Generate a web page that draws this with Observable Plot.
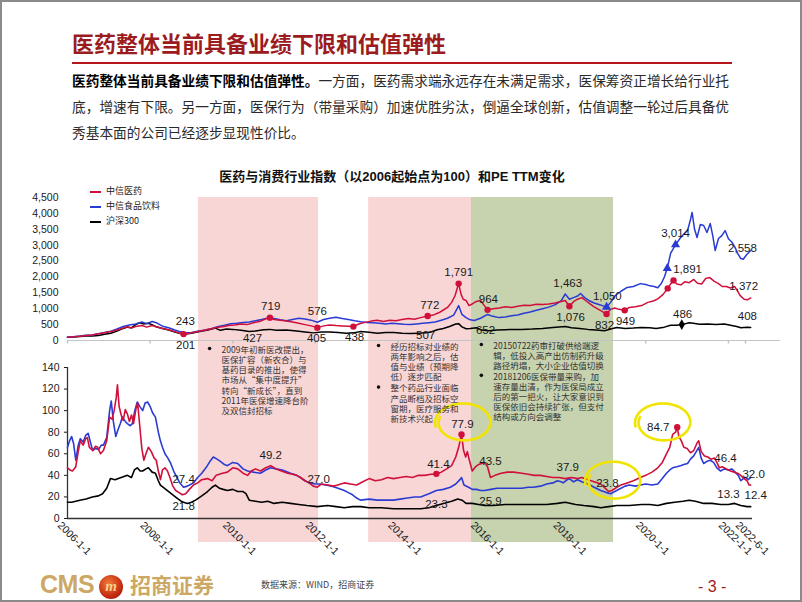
<!DOCTYPE html>
<html><head><meta charset="utf-8">
<script src="https://cdn.jsdelivr.net/npm/d3@7"></script>
<script src="https://cdn.jsdelivr.net/npm/@observablehq/plot@0.6"></script>
<style>
html,body{margin:0;padding:0;background:#fff;}
#page{position:relative;width:802px;height:602px;overflow:hidden;background:#fff;font-family:"Noto Sans CJK SC",sans-serif;}
#frame{position:absolute;left:0;top:0;width:802px;height:602px;box-sizing:border-box;border:2px solid #8a8a8a;pointer-events:none;}
#title{position:absolute;left:72px;top:29px;font-size:22px;line-height:26px;font-weight:700;color:#9b1b1e;white-space:nowrap;}
#rule{position:absolute;left:72px;top:62px;width:660px;height:2px;background:#b4161c;}
#para{position:absolute;left:72px;top:67px;font-size:13.7px;line-height:26px;color:#2a2a2a;white-space:nowrap;}
#para b{color:#000;}
#ctitle{position:absolute;left:0;width:784px;top:169px;text-align:center;font-family:"Liberation Sans","Noto Sans CJK SC",sans-serif;font-weight:700;font-size:13px;line-height:16px;color:#111;white-space:nowrap;}
#topplot{position:absolute;left:0;top:185px;}
#botplot{position:absolute;left:0;top:355px;}
#legend{position:absolute;left:90px;top:183px;font-size:9px;color:#222;}
#legend .row{height:15px;line-height:15px;white-space:nowrap;}
#legend .sw{display:inline-block;width:11px;height:2px;vertical-align:middle;margin-right:5px;}
#cms{position:absolute;left:40px;top:570px;font-family:"Liberation Sans",sans-serif;font-weight:700;font-size:25px;color:#cda865;letter-spacing:-0.5px;}
#logo{position:absolute;left:99px;top:575px;width:24px;height:24px;border-radius:50%;background:radial-gradient(circle at 40% 35%,#f07a3a,#c62d12 60%,#8e1408);color:#f3d28c;font-family:"Liberation Serif",serif;font-style:italic;font-weight:700;font-size:15px;line-height:23px;text-align:center;}
#cmscn{position:absolute;left:130px;top:571px;font-weight:700;font-size:21px;line-height:26px;color:#cda865;}
#source{position:absolute;left:261px;top:579px;font-size:9px;line-height:12px;color:#444;}
#pageno{position:absolute;left:698px;top:578px;font-family:"Liberation Sans",sans-serif;font-size:16px;color:#a01c1c;white-space:pre;}
</style></head>
<body><div id="page">
<div id="title">医药整体当前具备业绩下限和估值弹性</div>
<div id="rule"></div>
<div id="para"><b>医药整体当前具备业绩下限和估值弹性。</b>一方面，医药需求端永远存在未满足需求，医保筹资正增长给行业托<br>底，增速有下限。另一方面，医保行为（带量采购）加速优胜劣汰，倒逼全球创新，估值调整一轮过后具备优<br>秀基本面的公司已经逐步显现性价比。</div>
<div id="ctitle">医药与消费行业指数（以2006起始点为100）和PE TTM变化</div>
<div id="topplot"></div>
<div id="botplot"></div>
<div id="legend"></div>
<div id="cms">CMS</div>
<div id="logo">m</div>
<div id="cmscn">招商证券</div>
<div id="source">数据来源：WIND，招商证券</div>
<div id="pageno">- 3 -</div>
<div id="frame"></div>
</div>
<script>
// ---------- data ----------
const seriesNames = ["中信医药", "中信食品饮料", "沪深300"];

// index, 2006 start = 100  [decimal year, value]
const pharmaIndex = [[2006.00,100],[2006.15,115],[2006.30,135],[2006.45,160],[2006.60,175],[2006.75,210],[2006.90,245],[2007.05,280],[2007.20,330],[2007.35,390],[2007.45,430],[2007.55,390],[2007.65,440],[2007.80,470],[2007.92,420],[2008.05,470],[2008.15,430],[2008.30,380],[2008.45,340],[2008.60,280],[2008.72,230],[2008.81,201],[2008.95,230],[2009.10,270],[2009.25,310],[2009.45,360],[2009.60,410],[2009.75,430],[2009.90,470],[2010.05,490],[2010.20,520],[2010.35,500],[2010.50,560],[2010.65,600],[2010.80,680],[2010.90,719],[2011.00,660],[2011.15,640],[2011.30,610],[2011.45,580],[2011.60,540],[2011.75,500],[2011.90,460],[2012.05,405],[2012.20,460],[2012.35,490],[2012.50,470],[2012.65,460],[2012.80,450],[2012.92,438],[2013.05,520],[2013.20,570],[2013.35,610],[2013.50,640],[2013.65,600],[2013.80,640],[2013.95,620],[2014.10,660],[2014.25,690],[2014.40,670],[2014.55,720],[2014.72,772],[2014.85,800],[2015.00,880],[2015.10,960],[2015.20,1040],[2015.30,1200],[2015.38,1400],[2015.47,1791],[2015.53,1450],[2015.58,1300],[2015.65,1260],[2015.72,1100],[2015.80,1150],[2015.90,1230],[2016.00,1260],[2016.08,1120],[2016.17,964],[2016.30,1000],[2016.45,1020],[2016.60,1060],[2016.75,1040],[2016.90,1080],[2017.05,1110],[2017.20,1100],[2017.35,1140],[2017.50,1130],[2017.65,1150],[2017.80,1180],[2017.95,1230],[2018.05,1260],[2018.15,1076],[2018.25,1220],[2018.35,1300],[2018.45,1350],[2018.55,1250],[2018.65,1150],[2018.75,1060],[2018.90,950],[2019.05,832],[2019.15,980],[2019.25,1020],[2019.35,980],[2019.49,949],[2019.60,1040],[2019.75,1060],[2019.90,1100],[2020.05,1200],[2020.20,1250],[2020.30,1320],[2020.42,1450],[2020.53,1640],[2020.60,1780],[2020.67,1891],[2020.75,1780],[2020.85,1750],[2020.95,1850],[2021.05,1820],[2021.16,1920],[2021.25,1800],[2021.35,1780],[2021.45,1950],[2021.55,1980],[2021.65,1870],[2021.75,1800],[2021.85,1700],[2021.95,1700],[2022.05,1650],[2022.15,1700],[2022.22,1560],[2022.28,1420],[2022.38,1300],[2022.46,1280],[2022.54,1340]];
const foodIndex = [[2006.00,100],[2006.15,120],[2006.30,140],[2006.45,165],[2006.60,170],[2006.75,210],[2006.90,250],[2007.05,290],[2007.20,360],[2007.35,440],[2007.50,490],[2007.65,520],[2007.80,580],[2007.92,530],[2008.05,600],[2008.15,560],[2008.30,450],[2008.45,400],[2008.60,330],[2008.72,280],[2008.85,243],[2009.00,255],[2009.15,290],[2009.30,320],[2009.50,380],[2009.65,440],[2009.80,480],[2009.95,530],[2010.10,540],[2010.25,570],[2010.40,580],[2010.55,620],[2010.70,660],[2010.85,710],[2011.00,690],[2011.15,650],[2011.30,620],[2011.45,660],[2011.60,700],[2011.75,680],[2011.90,640],[2012.05,576],[2012.20,660],[2012.35,700],[2012.50,730],[2012.65,690],[2012.80,660],[2012.95,620],[2013.10,590],[2013.25,570],[2013.40,560],[2013.55,540],[2013.70,520],[2013.85,540],[2014.00,530],[2014.15,510],[2014.30,500],[2014.45,520],[2014.60,540],[2014.75,560],[2014.90,580],[2015.05,640],[2015.20,700],[2015.35,800],[2015.47,1100],[2015.55,820],[2015.65,720],[2015.75,650],[2015.85,630],[2016.00,700],[2016.17,820],[2016.30,760],[2016.45,720],[2016.60,740],[2016.75,780],[2016.90,800],[2017.05,860],[2017.20,900],[2017.35,950],[2017.50,1000],[2017.65,1050],[2017.80,1120],[2017.95,1250],[2018.05,1463],[2018.15,1300],[2018.25,1350],[2018.35,1400],[2018.42,1480],[2018.52,1350],[2018.62,1260],[2018.75,1180],[2018.90,1120],[2019.05,1050],[2019.15,1200],[2019.25,1400],[2019.40,1550],[2019.55,1670],[2019.70,1700],[2019.87,1790],[2020.00,1760],[2020.10,1720],[2020.20,1700],[2020.29,1660],[2020.38,1800],[2020.45,2000],[2020.52,2270],[2020.60,2740],[2020.72,3014],[2020.82,3200],[2020.92,3350],[2021.01,3460],[2021.08,3800],[2021.12,4030],[2021.18,3500],[2021.24,3240],[2021.32,3650],[2021.40,3620],[2021.48,3400],[2021.56,3680],[2021.62,3300],[2021.68,2830],[2021.76,3210],[2021.84,3300],[2021.92,3460],[2022.00,3200],[2022.08,3100],[2022.16,2930],[2022.24,2700],[2022.30,2580],[2022.36,2558],[2022.44,2700],[2022.54,2830]];
const csi300Index = [[2006.00,100],[2006.15,110],[2006.30,125],[2006.45,140],[2006.60,140],[2006.75,160],[2006.90,200],[2007.05,230],[2007.20,300],[2007.35,380],[2007.45,420],[2007.55,400],[2007.65,500],[2007.75,560],[2007.85,520],[2007.95,540],[2008.05,500],[2008.15,430],[2008.30,380],[2008.45,330],[2008.60,270],[2008.75,210],[2008.85,201],[2009.00,230],[2009.20,280],[2009.40,330],[2009.58,390],[2009.70,320],[2009.85,360],[2010.00,350],[2010.20,320],[2010.40,280],[2010.55,300],[2010.75,340],[2010.90,350],[2011.05,320],[2011.30,330],[2011.55,300],[2011.75,270],[2011.95,240],[2012.15,270],[2012.35,270],[2012.55,250],[2012.75,230],[2012.92,240],[2013.10,280],[2013.30,260],[2013.50,230],[2013.70,250],[2013.90,250],[2014.10,230],[2014.30,220],[2014.50,230],[2014.67,240],[2014.80,270],[2014.95,340],[2015.10,380],[2015.25,440],[2015.40,520],[2015.47,530],[2015.55,430],[2015.65,370],[2015.75,380],[2015.90,400],[2016.05,320],[2016.20,310],[2016.40,330],[2016.60,340],[2016.80,350],[2017.00,350],[2017.25,360],[2017.50,380],[2017.75,410],[2018.05,440],[2018.20,400],[2018.40,380],[2018.60,350],[2018.80,330],[2019.00,310],[2019.15,360],[2019.30,410],[2019.50,380],[2019.70,390],[2019.90,410],[2020.10,400],[2020.25,380],[2020.45,420],[2020.60,480],[2020.75,480],[2020.87,500],[2021.05,560],[2021.15,540],[2021.30,510],[2021.50,520],[2021.70,500],[2021.90,520],[2022.05,480],[2022.20,440],[2022.30,400],[2022.45,420],[2022.54,408]];

// PE TTM  [decimal year, value]
const pharmaPE = [[2006.00,47],[2006.06,45],[2006.12,44],[2006.20,48],[2006.26,62],[2006.31,72],[2006.38,68],[2006.44,74],[2006.48,75],[2006.53,66],[2006.61,63],[2006.68,67],[2006.73,66],[2006.80,60],[2006.87,63],[2006.95,72],[2007.02,94],[2007.08,92],[2007.13,100],[2007.18,112],[2007.21,124],[2007.25,104],[2007.30,96],[2007.35,91],[2007.40,101],[2007.45,97],[2007.50,90],[2007.55,96],[2007.60,88],[2007.66,102],[2007.70,107],[2007.75,86],[2007.80,65],[2007.85,54],[2007.90,60],[2007.96,66],[2008.03,62],[2008.10,56],[2008.15,54],[2008.20,44],[2008.25,36],[2008.30,45],[2008.36,47],[2008.42,44],[2008.48,38],[2008.55,30],[2008.62,26],[2008.70,24],[2008.78,22],[2008.86,23],[2008.95,27],[2009.05,31],[2009.15,33],[2009.25,36],[2009.39,37],[2009.50,35],[2009.60,40],[2009.75,42],[2009.87,43],[2010.00,47],[2010.12,46],[2010.25,42],[2010.36,40],[2010.45,44],[2010.55,46],[2010.67,44],[2010.80,47],[2010.92,49],[2011.05,46],[2011.18,44],[2011.33,42],[2011.45,41],[2011.55,40],[2011.64,38],[2011.75,35],[2011.85,33],[2011.95,30],[2012.05,29],[2012.15,32],[2012.30,31],[2012.45,30],[2012.54,31],[2012.70,33],[2012.85,32],[2013.00,31],[2013.15,34],[2013.30,37],[2013.45,35],[2013.60,36],[2013.75,38],[2013.89,37],[2014.05,38],[2014.20,39],[2014.35,38],[2014.50,40],[2014.65,40],[2014.80,41],[2014.93,41],[2015.05,43],[2015.18,46],[2015.30,49],[2015.40,57],[2015.47,66],[2015.54,78],[2015.59,63],[2015.64,57],[2015.68,62],[2015.73,54],[2015.80,44],[2015.88,48],[2015.95,50],[2016.03,51],[2016.10,52],[2016.17,48],[2016.24,38],[2016.35,40],[2016.50,42],[2016.65,43],[2016.80,43],[2017.00,42],[2017.15,41],[2017.30,40],[2017.45,40],[2017.60,39],[2017.75,38],[2017.90,38],[2018.05,37],[2018.20,38],[2018.35,37],[2018.45,38],[2018.60,36],[2018.75,34],[2018.91,32],[2019.02,28],[2019.10,25],[2019.18,26],[2019.30,29],[2019.40,31],[2019.55,33],[2019.70,35],[2019.87,38],[2020.00,40],[2020.15,43],[2020.29,47],[2020.40,52],[2020.50,60],[2020.58,66],[2020.65,78],[2020.72,80],[2020.76,85],[2020.80,76],[2020.86,72],[2020.92,66],[2021.00,65],[2021.08,61],[2021.16,63],[2021.24,70],[2021.28,72],[2021.34,62],[2021.42,58],[2021.50,57],[2021.58,55],[2021.66,56],[2021.72,52],[2021.78,47],[2021.85,48],[2021.95,46],[2022.05,44],[2022.14,43],[2022.22,42],[2022.30,40],[2022.38,37],[2022.45,35],[2022.50,31],[2022.54,31]];
const foodPE = [[2006.00,66],[2006.05,72],[2006.10,76],[2006.15,69],[2006.20,54],[2006.26,68],[2006.31,74],[2006.38,71],[2006.44,77],[2006.50,79],[2006.56,70],[2006.61,63],[2006.68,65],[2006.75,64],[2006.82,68],[2006.87,68],[2006.95,75],[2007.02,100],[2007.06,109],[2007.11,90],[2007.17,76],[2007.22,82],[2007.28,88],[2007.33,94],[2007.40,90],[2007.45,88],[2007.52,86],[2007.57,88],[2007.63,100],[2007.69,108],[2007.75,104],[2007.82,100],[2007.88,107],[2007.94,108],[2008.00,104],[2008.06,98],[2008.13,94],[2008.20,80],[2008.25,72],[2008.30,66],[2008.36,60],[2008.43,56],[2008.50,51],[2008.57,44],[2008.65,38],[2008.72,33],[2008.81,29],[2008.90,30],[2009.00,32],[2009.05,33],[2009.15,38],[2009.25,42],[2009.35,47],[2009.45,53],[2009.53,57],[2009.62,55],[2009.70,53],[2009.80,50],[2009.87,49],[2010.00,52],[2010.12,51],[2010.25,46],[2010.36,44],[2010.50,43],[2010.67,42],[2010.80,45],[2010.92,47],[2011.05,46],[2011.20,45],[2011.40,42],[2011.55,40],[2011.64,38],[2011.75,35],[2011.85,33],[2012.00,32],[2012.10,32],[2012.25,31],[2012.40,30],[2012.55,28],[2012.70,26],[2012.80,24],[2012.90,22],[2013.00,19],[2013.09,17],[2013.30,18],[2013.50,17],[2013.70,17],[2013.89,17],[2014.05,18],[2014.23,19],[2014.40,20],[2014.55,20],[2014.75,23],[2014.93,26],[2015.10,27],[2015.27,29],[2015.40,32],[2015.50,36],[2015.54,38],[2015.60,31],[2015.71,29],[2015.80,27],[2015.90,27],[2016.00,26],[2016.10,26],[2016.25,27],[2016.40,28],[2016.55,28],[2016.70,28],[2016.85,28],[2017.00,28],[2017.15,29],[2017.28,29],[2017.45,30],[2017.60,32],[2017.75,33],[2017.86,35],[2017.95,34],[2018.00,33],[2018.10,36],[2018.15,37],[2018.25,34],[2018.35,36],[2018.45,34],[2018.60,32],[2018.75,29],[2018.91,26],[2019.05,24],[2019.15,23],[2019.25,25],[2019.40,28],[2019.50,30],[2019.60,31],[2019.75,30],[2019.87,31],[2020.00,32],[2020.15,31],[2020.29,32],[2020.40,37],[2020.50,42],[2020.58,45],[2020.65,47],[2020.75,48],[2020.84,49],[2020.92,50],[2021.01,51],[2021.08,55],[2021.16,58],[2021.22,62],[2021.28,66],[2021.34,56],[2021.40,51],[2021.48,53],[2021.56,54],[2021.64,52],[2021.72,47],[2021.81,44],[2021.90,46],[2022.00,45],[2022.08,46],[2022.16,43],[2022.24,40],[2022.30,35],[2022.36,37],[2022.42,38],[2022.48,36],[2022.54,38]];
const csi300PE = [[2006.00,15],[2006.10,15],[2006.20,16],[2006.30,17],[2006.45,18],[2006.60,20],[2006.75,21],[2006.85,23],[2006.95,28],[2007.04,37],[2007.15,36],[2007.30,38],[2007.45,40],[2007.55,38],[2007.62,45],[2007.69,47],[2007.76,44],[2007.82,44],[2007.90,46],[2007.96,47],[2008.05,43],[2008.13,42],[2008.20,35],[2008.25,31],[2008.35,28],[2008.45,25],[2008.55,22],[2008.65,19],[2008.75,16],[2008.81,15],[2008.90,14],[2009.00,15],[2009.10,17],[2009.25,21],[2009.39,25],[2009.50,29],[2009.58,31],[2009.68,28],[2009.77,27],[2009.87,26],[2010.00,27],[2010.12,25],[2010.25,25],[2010.32,23],[2010.40,17],[2010.55,16],[2010.70,15],[2010.85,16],[2011.00,14],[2011.20,15],[2011.40,14],[2011.60,13],[2011.80,12],[2012.05,11],[2012.30,12],[2012.50,11],[2012.70,10],[2012.90,11],[2013.10,11],[2013.30,10],[2013.60,10],[2013.89,9],[2014.10,9],[2014.30,9],[2014.55,9],[2014.75,10],[2014.93,12],[2015.10,14],[2015.30,16],[2015.45,18],[2015.55,17],[2015.65,14],[2015.80,14],[2015.95,13],[2016.10,12],[2016.30,12],[2016.60,13],[2016.90,13],[2017.28,13],[2017.60,13],[2017.86,14],[2018.05,15],[2018.30,13],[2018.50,12],[2018.75,11],[2018.91,10],[2019.10,11],[2019.30,12],[2019.60,12],[2019.90,13],[2020.10,13],[2020.29,12],[2020.50,14],[2020.70,15],[2020.90,16],[2021.05,17],[2021.20,16],[2021.40,14],[2021.60,14],[2021.81,13],[2022.00,13],[2022.15,14],[2022.30,12],[2022.45,11],[2022.54,11]];

const indexTicks = [0, 500, 1000, 1500, 2000, 2500, 3000, 3500, 4000, 4500];
const peTicks = [0, 20, 40, 60, 80, 100, 120, 140];
const dateTickLabels = ["2006-1-1","2008-1-1","2010-1-1","2012-1-1","2014-1-1","2016-1-1","2018-1-1","2020-1-1","2022-1-1","2022-6-1"];

// shaded periods [start, end] in decimal years
const policyPeriods = [[2009.17, 2012.08], [2013.29, 2015.78]];
const reformPeriods = [[2015.78, 2019.22]];

// value callouts [decimal year, value]
const indexCalloutsAbove = [[2008.85,243],[2010.92,719],[2012.05,576],[2014.77,772],[2015.47,1791],[2016.19,964],[2018.11,1463],[2019.07,1050],[2020.72,3014],[2021.01,1891],[2022.34,2558],[2022.37,1372],[2020.89,486],[2022.46,408]];
const indexCalloutsBelow = [[2008.86,201],[2010.48,427],[2012.03,405],[2012.95,438],[2014.67,507],[2016.12,652],[2018.18,1076],[2019.00,832],[2019.51,949]];
const indexPharmaMarks = [[2008.81,201],[2010.90,719],[2012.05,405],[2012.92,438],[2014.72,772],[2015.47,1791],[2016.17,964],[2018.15,1076],[2019.05,832],[2019.49,949],[2020.53,1640],[2020.67,1891]];
const indexFoodMarks = [[2019.05,1050],[2020.52,2270],[2020.72,3014]];
const indexCsiMarks = [[2020.87,500]];

const peCalloutsAbove = [[2008.81,27.4],[2010.92,49.2],[2012.08,27.0],[2014.98,41.4],[2015.56,77.9],[2016.24,43.5],[2018.11,37.9],[2019.07,23.8],[2021.93,46.4],[2022.61,32.0],[2022.00,13.3],[2022.66,12.4]];
const peCalloutsBelow = [[2008.81,21.8],[2014.93,23.3],[2016.24,25.9]];
const peCalloutsLeft = [[2020.76,84.7]];
const pePharmaMarks = [[2014.93,41.4],[2015.54,77.9],[2020.76,84.7]];
const highlightRings = [[2015.59,89],[2020.43,89],[2019.22,35]];

const notes = [
  {at: [2009.73, 160.4], lines: ["2009年初新医改提出，","医保扩容（新农合）与","基药目录的推出，使得","市场从“集中度提升”","转向“新成长”，直到","2011年医保增速降台阶","及双信封招标"]},
  {at: [2013.82, 163.2], lines: ["经历招标对业绩的","两年影响之后，估","值与业绩（预期降","低）逐步匹配"]},
  {at: [2013.82, 124.6], lines: ["整个药品行业面临","产品断档及招标空","窗期，医疗服务和","新技术兴起"]},
  {at: [2016.31, 164.1], lines: ["20150722药审打破供给端逻","辑，低投入高产出仿制药升级","路径坍塌，大小企业估值切换"]},
  {at: [2016.31, 135.5], lines: ["20181206医保带量采购，加","速存量出清，作为医保局成立","后的第一把火，让大家意识到","医保依旧会持续扩张，但支付","结构或方向会调整"]}
];

// ---------- styles ----------
const RED = "#d0103a", BLUE = "#2a3bd4", BLACK = "#000", PINK = "#f9d6d6", OLIVE = "#c7d2ae", YELLOW = "#f0e400";
const FONT = '"Liberation Sans", "Noto Sans CJK SC", sans-serif';
const CJK = '"Noto Sans CJK SC", sans-serif';

// ---------- helpers ----------
const toDate = t => { const y = Math.floor(t); const a = Date.UTC(y,0,1), b = Date.UTC(y+1,0,1); return new Date(a + (t - y) * (b - a)); };
const pts = arr => arr.map(([t, v]) => ({date: toDate(t), value: v}));
const parseTick = s => { const [y, m, d] = s.split("-").map(Number); return new Date(Date.UTC(y, m - 1, d)); };
const spans = arr => arr.map(([a, b]) => ({start: toDate(a), end: toDate(b)}));
const xOpts = {type: "utc", domain: [toDate(2006), parseTick("2022-6-1")], range: [67, 745], axis: null};

const ringSymbol = {draw(ctx, size) {
  const r = Math.sqrt(size / Math.PI), n = 64;
  for (let i = 0; i <= n; i++) {
    const a = Math.PI * 0.92 + (i / n) * 2.2 * Math.PI;
    const k = 1.04 - 0.14 * i / n;
    const px = Math.cos(a) * r * 1.45 * k, py = Math.sin(a) * r * k;
    if (i) ctx.lineTo(px, py); else ctx.moveTo(px, py);
  }
}};
const tickDown = {draw(ctx, size) { const r = Math.sqrt(size / Math.PI); ctx.moveTo(0, 0); ctx.lineTo(0, r); }};

const baseStyle = {background: "transparent", overflow: "visible", fontFamily: FONT, fontSize: "10.5px", color: "#1a1a1a"};

// ---------- top: index ----------
const topChart = Plot.plot({
  width: 802, height: 170, marginTop: 12, marginBottom: 0, marginLeft: 67, marginRight: 22,
  style: baseStyle,
  x: xOpts,
  y: {domain: [0, 4500], range: [155, 12], ticks: indexTicks, tickFormat: d3.format(","), tickSize: 0, tickPadding: 9, label: null},
  marks: [
    Plot.rect(spans(policyPeriods), {x1: "start", x2: "end", fill: PINK}),
    Plot.rect(spans(reformPeriods), {x1: "start", x2: "end", fill: OLIVE}),
    Plot.ruleY([0], {stroke: "#c4c4c4"}),
    Plot.dot(dateTickLabels.map(parseTick), {x: d => d, y: 0, symbol: tickDown, r: 3, stroke: "#c4c4c4", fill: "none"}),
    Plot.line(pts(csi300Index), {x: "date", y: "value", stroke: BLACK, strokeWidth: 1.5}),
    Plot.line(pts(foodIndex), {x: "date", y: "value", stroke: BLUE, strokeWidth: 1.5}),
    Plot.line(pts(pharmaIndex), {x: "date", y: "value", stroke: RED, strokeWidth: 1.5}),
    Plot.dot(pts(indexPharmaMarks), {x: "date", y: "value", r: 3.2, fill: RED}),
    Plot.dot(pts(indexFoodMarks), {x: "date", y: "value", symbol: "triangle", r: 3.4, fill: BLUE}),
    Plot.dot(pts(indexCsiMarks), {x: "date", y: "value", symbol: "diamond", r: 3.2, fill: BLACK}),
    Plot.text(pts(indexCalloutsAbove), {x: "date", y: "value", text: d => d3.format(",")(d.value), dy: -11, fontSize: 11.5, fill: "#1a1a1a"}),
    Plot.text(pts(indexCalloutsBelow), {x: "date", y: "value", text: d => d3.format(",")(d.value), dy: 11, fontSize: 11.5, fill: "#1a1a1a"})
  ]
});
document.getElementById("topplot").append(topChart);

// ---------- bottom: PE TTM ----------
const bottomChart = Plot.plot({
  width: 802, height: 215, marginTop: 0, marginBottom: 28, marginLeft: 67, marginRight: 50,
  style: baseStyle,
  x: xOpts,
  y: {domain: [0, 140], range: [163, 12], ticks: peTicks, tickSize: 3, tickPadding: 5, label: null},
  marks: [
    Plot.rect(spans(policyPeriods), {x1: "start", x2: "end", fill: PINK}),
    Plot.rect(spans(reformPeriods), {x1: "start", x2: "end", fill: OLIVE}),
    Plot.ruleX([xOpts.domain[0]], {y1: 0, y2: 140, stroke: "#333", strokeWidth: 1.3}),
    Plot.ruleY([0], {stroke: "#333", strokeWidth: 1.3}),
    Plot.line(pts(csi300PE), {x: "date", y: "value", stroke: BLACK, strokeWidth: 1.6}),
    Plot.line(pts(foodPE), {x: "date", y: "value", stroke: BLUE, strokeWidth: 1.6}),
    Plot.line(pts(pharmaPE), {x: "date", y: "value", stroke: RED, strokeWidth: 1.6}),
    Plot.dot(pts(pePharmaMarks), {x: "date", y: "value", r: 3.2, fill: RED}),
    Plot.dot(pts(highlightRings), {x: "date", y: "value", r: 19, symbol: ringSymbol, stroke: YELLOW, strokeWidth: 2.6, fill: "none"}),
    Plot.text(pts(peCalloutsAbove), {x: "date", y: "value", text: d => d3.format(".1f")(d.value), dy: -10, fontSize: 11.5, fill: "#1a1a1a"}),
    Plot.text(pts(peCalloutsBelow), {x: "date", y: "value", text: d => d3.format(".1f")(d.value), dy: 11, fontSize: 11.5, fill: "#1a1a1a"}),
    Plot.text(pts(peCalloutsLeft), {x: "date", y: "value", text: d => d3.format(".1f")(d.value), dx: -19, fontSize: 11.5, fill: "#1a1a1a"}),
    Plot.text(notes, {x: d => toDate(d.at[0]), y: d => d.at[1], text: d => d.lines.join("\n"), textAnchor: "start", lineAnchor: "top", lineHeight: 1.2, fontSize: 8.5, fontFamily: CJK, fill: "#333"}),
    Plot.dot(notes, {x: d => toDate(d.at[0]), y: d => d.at[1], dx: -12, dy: 3, r: 1.8, fill: "#111"}),
    Plot.text(dateTickLabels, {x: d => parseTick(d), y: 0, text: d => d, rotate: 45, textAnchor: "start", dx: -8, dy: 5, fontSize: 10.5, fill: "#1a1a1a"})
  ]
});
document.getElementById("botplot").append(bottomChart);

// ---------- legend ----------
const legendColors = [RED, BLUE, BLACK];
document.getElementById("legend").innerHTML = seriesNames.map((n, i) =>
  `<div class="row"><span class="sw" style="background:${legendColors[i]}"></span>${n}</div>`).join("");
</script>
</body></html>
